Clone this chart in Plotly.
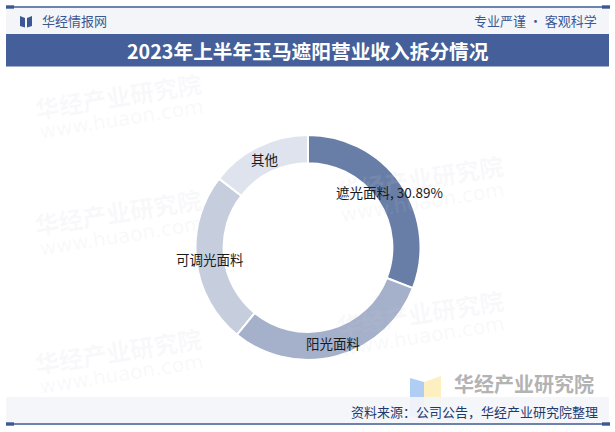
import math
import plotly.graph_objects as go

# ---- data ----
categories = ["遮光面料", "阳光面料", "可调光面料", "其他"]
shares = [30.89, 30.0, 24.6, 14.51]
label_texts = ["遮光面料, 30.89%", "阳光面料", "可调光面料", "其他"]
slice_colors = ["#697ea6", "#a5b1ca", "#c6cedd", "#dee3ed"]

title_text = "2023年上半年玉马遮阳营业收入拆分情况"
header_left = "华经情报网"
header_right = "专业严谨 • 客观科学"
source_text = "资料来源：公司公告，华经产业研究院整理"

W, H = 615, 432
NAVY = "#3c5894"
FONT = "Noto Sans CJK SC"

def px(x):
    return x / W

def py(y):
    return 1 - y / H

def ann(x, y, text, size, color, family=FONT, xanchor="center", angle=0):
    return dict(x=px(x), y=py(y), xref="paper", yref="paper", text=text, showarrow=False,
                xanchor=xanchor, yanchor="middle", textangle=angle,
                font=dict(family=family, size=size, color=color))

# pie geometry (pixels)
cx, cy, R = 308, 247.5, 112.5
hole = 0.75

fig = go.Figure()
fig.add_trace(go.Pie(
    labels=categories,
    values=shares,
    sort=False,
    direction="clockwise",
    rotation=0,
    hole=hole,
    textinfo="none",
    hoverinfo="label+percent",
    marker=dict(colors=slice_colors, line=dict(color="white", width=2)),
    domain=dict(x=[px(cx - R), px(cx + R)], y=[py(cy + R), py(cy - R)]),
    showlegend=False,
))

shapes = []
annotations = []

# faint watermarks
wm_positions = [(118, 95), (118, 212), (118, 350), (420, 178), (420, 312)]
for (wx, wy) in wm_positions:
    annotations.append(ann(wx, wy, "<b>华经产业研究院</b>", 24, "rgba(200,206,218,0.13)", angle=-9))
    annotations.append(ann(wx + 3, wy + 24, "www.huaon.com", 20, "rgba(200,206,218,0.12)",
                           family="DejaVu Sans", angle=-9))

# header band / title bar
shapes.append(dict(type="rect", xref="paper", yref="paper", x0=px(6), x1=px(609), y0=py(8), y1=py(34),
                   fillcolor="#f3f5f9", line=dict(width=0), layer="below"))
shapes.append(dict(type="rect", xref="paper", yref="paper", x0=px(6), x1=px(609), y0=py(34), y1=py(66.5),
                   fillcolor="#445f99", line=dict(width=0), layer="below"))

# bottom-right logo watermark
shapes.append(dict(type="path", xref="paper", yref="paper",
                   path=f"M {px(410)},{py(378)} L {px(424)},{py(382)} L {px(424)},{py(420)} L {px(410)},{py(416)} Z",
                   fillcolor="rgba(150,190,240,0.75)", line=dict(width=0)))
shapes.append(dict(type="path", xref="paper", yref="paper",
                   path=f"M {px(424)},{py(382)} L {px(441)},{py(376)} L {px(441)},{py(414)} L {px(424)},{py(420)} Z",
                   fillcolor="rgba(252,234,170,0.75)", line=dict(width=0)))
annotations.append(ann(524, 383, "<b>华经产业研究院</b>", 20, "#b3b3b3"))

# bottom band
shapes.append(dict(type="rect", xref="paper", yref="paper", x0=px(6), x1=px(609), y0=py(397), y1=py(423),
                   fillcolor="rgba(243,245,249,0.93)", line=dict(width=0)))

# top & bottom lines with end squares
for yl in (7, 424):
    shapes.append(dict(type="line", xref="paper", yref="paper", x0=px(6), x1=px(609), y0=py(yl), y1=py(yl),
                       line=dict(color=NAVY, width=1.5)))
    shapes.append(dict(type="rect", xref="paper", yref="paper", x0=px(6), x1=px(14), y0=py(yl - 1.7), y1=py(yl + 1.7),
                       fillcolor=NAVY, line=dict(width=0)))
    shapes.append(dict(type="rect", xref="paper", yref="paper", x0=px(602), x1=px(610), y0=py(yl - 1.7), y1=py(yl + 1.7),
                       fillcolor=NAVY, line=dict(width=0)))

# header icon (open book)
shapes.append(dict(type="path", xref="paper", yref="paper",
                   path=f"M {px(20)},{py(16)} L {px(25)},{py(18)} L {px(25)},{py(27.5)} L {px(20)},{py(26)} Z",
                   fillcolor=NAVY, line=dict(width=0)))
shapes.append(dict(type="path", xref="paper", yref="paper",
                   path=f"M {px(27)},{py(18)} L {px(32)},{py(16)} L {px(32)},{py(26)} L {px(27)},{py(27.5)} Z",
                   fillcolor=NAVY, line=dict(width=0)))

annotations.append(ann(40, 20.5, header_left, 13, NAVY, xanchor="left"))
annotations.append(ann(599, 20.5, header_right, 13, NAVY, xanchor="right"))
annotations.append(ann(308, 50.5, "<b>" + title_text + "</b>", 19.7, "white"))
annotations.append(ann(600, 411.5, source_text, 13, "#1f3a70", xanchor="right"))

# slice labels on ring centerline at mid-angle
total = sum(shares)
r_mid = R * (1 + hole) / 2
cum = 0.0
for txt, v in zip(label_texts, shares):
    mid = (cum + v / 2) / total * 2 * math.pi
    cum += v
    lx = cx + r_mid * math.sin(mid)
    ly = cy - r_mid * math.cos(mid)
    annotations.append(ann(lx, ly, txt, 13.5, "#1a1a1a"))

fig.update_layout(
    width=W, height=H, autosize=False,
    margin=dict(l=0, r=0, t=0, b=0),
    paper_bgcolor="white", plot_bgcolor="white",
    shapes=shapes, annotations=annotations,
)

fig.write_html("out.html", config={"displayModeBar": False},
               post_script="document.body.style.margin='0';")
